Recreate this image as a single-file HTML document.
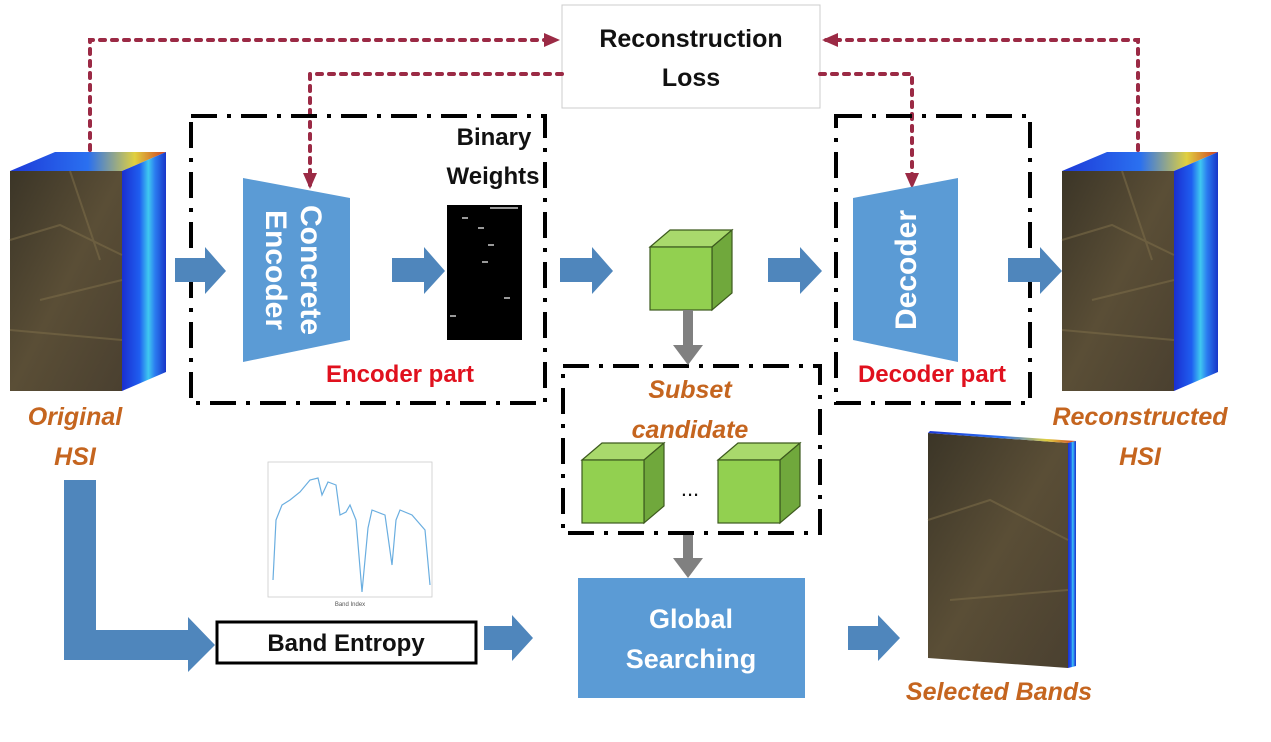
<!DOCTYPE html>
<html><head><meta charset="utf-8"><style>
html,body{margin:0;padding:0;background:#fff;}
svg{display:block;}
text{font-family:"Liberation Sans",sans-serif;}
</style></head><body>
<svg width="1271" height="742" viewBox="0 0 1271 742" xmlns="http://www.w3.org/2000/svg">
<defs>
<marker id="rh" markerWidth="16" markerHeight="16" refX="12" refY="8" orient="auto" markerUnits="userSpaceOnUse"><path d="M0,1 L16,8 L0,15 z" fill="#9b2a45"/></marker>
<linearGradient id="sat" x1="0" y1="0" x2="1" y2="1">
<stop offset="0" stop-color="#3b3527"/><stop offset="0.5" stop-color="#5a4e36"/><stop offset="1" stop-color="#4a4030"/></linearGradient>
<linearGradient id="side" x1="0" y1="0" x2="1" y2="0">
<stop offset="0" stop-color="#1a2fd0"/><stop offset="0.4" stop-color="#1f5ef0"/><stop offset="0.6" stop-color="#3fc8f0"/><stop offset="0.75" stop-color="#2b7cf0"/><stop offset="1" stop-color="#1836c8"/></linearGradient>
<linearGradient id="top" x1="0" y1="0" x2="1" y2="0">
<stop offset="0" stop-color="#1d3ad8"/><stop offset="0.5" stop-color="#2a70f0"/><stop offset="0.8" stop-color="#e0d040"/><stop offset="1" stop-color="#d04020"/></linearGradient>
</defs>

<rect x="562" y="5" width="258" height="103" fill="#fff" stroke="#ccc" stroke-width="1"/>
<text x="691" y="47" font-size="25" font-weight="bold" text-anchor="middle" fill="#111">Reconstruction</text>
<text x="691" y="86" font-size="25" font-weight="bold" text-anchor="middle" fill="#111">Loss</text>

<g fill="none" stroke="#9b2a45" stroke-width="4" stroke-dasharray="5,7" stroke-linecap="round">
<path d="M90,150 V40 H556" marker-end="url(#rh)"/>
<path d="M562,74 H310 V185" marker-end="url(#rh)"/>
<path d="M1138,150 V40 H826" marker-end="url(#rh)"/>
<path d="M820,74 H912 V185" marker-end="url(#rh)"/>
</g>

<g fill="none" stroke="#000" stroke-width="4" stroke-dasharray="26,10,4,10">
<rect x="191" y="116" width="354" height="287"/>
<rect x="836" y="116" width="194" height="287"/>
<rect x="563" y="366" width="257" height="167"/>
</g>

<g id="cube">
<polygon points="10,171 55,152 166,152 122,171" fill="url(#top)"/>
<polygon points="122,171 166,152 166,372 122,391" fill="url(#side)"/>
<rect x="10" y="171" width="112" height="220" fill="url(#sat)"/>
<path d="M10,240 L60,225 L122,255 M40,300 L122,280 M70,171 L100,260 M10,330 L122,340" stroke="#7a6a48" stroke-width="2" fill="none" opacity="0.6"/>
</g>
<use href="#cube" x="1052"/>

<g fill="#4f86bc">
<path d="M175,258 H205 V247 L226,271 L205,294 V282 H175 Z"/>
<path d="M392,258 H424 V247 L445,271 L424,294 V282 H392 Z"/>
<path d="M560,258 H592 V247 L613,271 L592,294 V282 H560 Z"/>
<path d="M768,258 H800 V247 L822,271 L800,294 V282 H768 Z"/>
<path d="M1008,258 H1040 V247 L1062,271 L1040,294 V282 H1008 Z"/>
<path d="M484,626 H512 V615 L533,638 L512,661 V650 H484 Z"/>
<path d="M848,626 H878 V615 L900,638 L878,661 V650 H848 Z"/>
<path d="M64,480 H96 V630 H188 V617 L215,645 L188,672 V660 H64 Z"/>
</g>

<polygon points="243,178 350,198 350,340 243,362" fill="#5b9bd5"/>
<text transform="translate(296,270) rotate(90)" font-size="30" font-weight="bold" fill="#fff" text-anchor="middle"><tspan x="0" y="-5">Concrete</tspan><tspan x="0" y="30">Encoder</tspan></text>
<polygon points="853,198 958,178 958,362 853,340" fill="#5b9bd5"/>
<text transform="translate(905,270) rotate(-90)" font-size="30" font-weight="bold" fill="#fff" text-anchor="middle" y="11">Decoder</text>

<text x="494" y="145" font-size="24" font-weight="bold" text-anchor="middle" fill="#111">Binary</text>
<text x="493" y="184" font-size="24" font-weight="bold" text-anchor="middle" fill="#111">Weights</text>
<rect x="447" y="205" width="75" height="135" fill="#000"/>
<g stroke="#ccc" stroke-width="1.5">
<line x1="490" y1="208" x2="518" y2="208"/><line x1="462" y1="218" x2="468" y2="218"/><line x1="478" y1="228" x2="484" y2="228"/>
<line x1="488" y1="245" x2="494" y2="245"/><line x1="482" y1="262" x2="488" y2="262"/><line x1="504" y1="298" x2="510" y2="298"/><line x1="450" y1="316" x2="456" y2="316"/>
</g>

<g id="gc" stroke="#3d5a1e" stroke-width="1.2">
<polygon points="650,247 670,230 732,230 712,247" fill="#a9d96c"/>
<polygon points="712,247 732,230 732,293 712,310" fill="#70a83c"/>
<rect x="650" y="247" width="62" height="63" fill="#92d050"/>
</g>
<use href="#gc" x="-68" y="213"/>
<use href="#gc" x="68" y="213"/>
<text x="690" y="496" font-size="22" text-anchor="middle" fill="#111">...</text>

<g fill="#808080">
<path d="M683,310 H693 V345 H703 L688,365 L673,345 H683 Z"/>
<path d="M683,535 H693 V558 H703 L688,578 L673,558 H683 Z"/>
</g>

<g font-style="italic" font-weight="bold" fill="#c5651f" font-size="25" text-anchor="middle">
<text x="75" y="425">Original</text><text x="75" y="465">HSI</text>
<text x="1140" y="425">Reconstructed</text><text x="1140" y="465">HSI</text>
<text x="690" y="398">Subset</text><text x="690" y="438">candidate</text>
<text x="999" y="700">Selected Bands</text>
</g>
<g font-weight="bold" fill="#e0111e" font-size="24" text-anchor="middle">
<text x="400" y="382">Encoder part</text>
<text x="932" y="382">Decoder part</text>
</g>

<rect x="268" y="462" width="164" height="135" fill="#fff" stroke="#ccc" stroke-width="0.8"/>
<path d="M273,580 L276,520 L282,505 L290,500 L300,492 L310,480 L318,478 L322,495 L328,482 L336,485 L340,515 L346,512 L350,505 L356,520 L362,592 L368,528 L372,510 L385,515 L392,565 L396,520 L400,510 L412,515 L425,530 L430,585" fill="none" stroke="#6aaee0" stroke-width="1.2"/>
<text x="350" y="606" font-size="6" fill="#555" text-anchor="middle">Band Index</text>

<rect x="217" y="622" width="259" height="41" fill="#fff" stroke="#000" stroke-width="3"/>
<text x="346" y="651" font-size="24" font-weight="bold" text-anchor="middle" fill="#111">Band Entropy</text>

<rect x="578" y="578" width="227" height="120" fill="#5b9bd5"/>
<text x="691" y="628" font-size="27" font-weight="bold" text-anchor="middle" fill="#fff">Global</text>
<text x="691" y="668" font-size="27" font-weight="bold" text-anchor="middle" fill="#fff">Searching</text>

<polygon points="928,433 1068,443 1068,668 928,658" fill="url(#sat)"/>
<polygon points="928,433 930,431 1076,441 1068,443" fill="url(#top)"/>
<polygon points="1068,443 1076,441 1076,666 1068,668" fill="url(#side)"/>
<path d="M928,520 L990,500 L1068,540 M950,600 L1068,590" stroke="#7a6a48" stroke-width="2" fill="none" opacity="0.6"/>
</svg>
</body></html>
